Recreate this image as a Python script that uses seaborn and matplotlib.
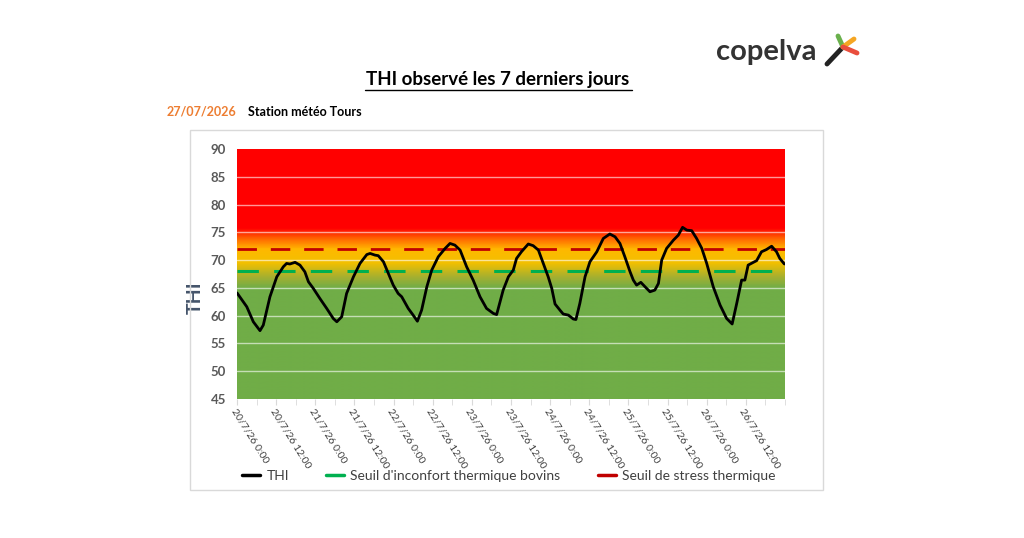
import numpy as np
import pandas as pd
import matplotlib
matplotlib.use("Agg")
import matplotlib.pyplot as plt
import matplotlib.dates as mdates
from matplotlib.colors import LinearSegmentedColormap
from matplotlib.lines import Line2D
from matplotlib.patches import Rectangle
import seaborn as sns

# Données (heures depuis le 20/07/2026 0:00, THI)
heures = [0, 3.0, 5.0, 7.05, 8.06, 10.1, 12.2, 14.2, 15.2, 16.2, 17.8, 19.3, 20.8,
          21.9, 23.4, 25.4, 27.5, 29.5, 30.6, 32.1, 33.6, 35.7, 37.7, 39.8, 40.8,
          42.3, 43.3, 44.9, 46.4, 47.9, 49.4, 50.5, 52.5, 54.0, 55.3, 56.6, 58.2,
          59.7, 61.7, 63.8, 65.3, 66.8, 68.4, 70.4, 72.4, 74.5, 76.5, 78.6, 79.6,
          80.6, 81.6, 83.2, 84.7, 85.7, 87.2, 89.3, 90.8, 92.4, 93.9, 95.4, 96.5,
          97.5, 99.0, 100.0, 101.6, 103.1, 103.9, 105.1, 106.7, 108.2, 110.3,
          112.3, 114.3, 115.9, 117.4, 118.9, 120.5, 121.5, 122.5, 123.8, 125.1,
          126.6, 128.1, 129.2, 130.2, 131.7, 133.8, 135.3, 136.6, 137.9, 139.4,
          140.9, 142.5, 144.0, 146.0, 148.1, 150.1, 151.8, 153.2, 154.7, 155.7,
          156.7, 158.3, 159.3, 160.8, 162.3, 163.9, 165.4, 166.4, 167.8]
thi = [64.1, 61.6, 58.9, 57.3, 58.3, 63.4, 67.0, 68.8, 69.4, 69.3, 69.6, 69.1, 67.9,
       66.1, 64.9, 63.1, 61.3, 59.5, 58.9, 59.8, 64.0, 67.0, 69.4, 71.0, 71.2,
       70.9, 70.8, 69.7, 67.6, 65.5, 64.0, 63.4, 61.3, 60.1, 59.0, 61.0, 65.2,
       68.2, 70.6, 72.1, 73.0, 72.7, 71.8, 68.8, 66.4, 63.4, 61.3, 60.4, 60.2,
       62.4, 64.6, 67.0, 68.2, 70.3, 71.5, 72.9, 72.6, 71.8, 69.4, 67.0, 64.9,
       62.1, 61.0, 60.3, 60.1, 59.4, 59.3, 62.2, 67.0, 69.7, 71.5, 73.9, 74.7,
       74.2, 73.0, 70.6, 67.9, 66.4, 65.5, 66.0, 65.2, 64.3, 64.6, 65.8, 70.0,
       72.1, 73.6, 74.5, 75.9, 75.4, 75.3, 73.9, 72.1, 69.4, 65.2, 61.9, 59.5,
       58.5, 62.2, 66.4, 66.4, 69.1, 69.6, 69.9, 71.5, 71.9, 72.5, 71.5, 70.3, 69.3]
seuil_inconfort = 68
seuil_stress = 72
debut = "2026-07-20 00:00"
fin = "2026-07-27 00:00"
noms_legende = ["THI", "Seuil d'inconfort thermique bovins", "Seuil de stress thermique"]
couleurs_legende = ["black", "#00b050", "#c00000"]

df = pd.DataFrame({"heure": heures, "THI": thi})
df["date"] = pd.Timestamp(debut) + pd.to_timedelta(df["heure"], unit="h")

sns.set_style("white")
plt.rcParams["font.family"] = ["Lato", "DejaVu Sans"]

fig = plt.figure(figsize=(10.24, 5.38), dpi=100)

# cadre du graphique
fig.patches.append(Rectangle((190 / 1024, 1 - 490 / 538), 633 / 1024, 360 / 538,
                             transform=fig.transFigure, fill=False,
                             edgecolor="#d9d9d9", linewidth=1))

ax = fig.add_axes([237 / 1024, 1 - 399 / 538, 548 / 1024, 250 / 538])

t0 = mdates.date2num(pd.Timestamp(debut))
t1 = mdates.date2num(pd.Timestamp(fin))

# fond dégradé vert -> jaune -> rouge
cmap = LinearSegmentedColormap.from_list("thi", [
    (0.0, "#70ad47"), (20 / 45, "#70ad47"), (22 / 45, "#a6b030"),
    (24.5 / 45, "#f2c000"), (27 / 45, "#ffb800"), (28.8 / 45, "#ff6a00"),
    (30.8 / 45, "#ff0000"), (1.0, "#ff0000")])
grad = np.linspace(0, 1, 450).reshape(-1, 1)
ax.imshow(grad, cmap=cmap, origin="lower", aspect="auto",
          extent=[t0, t1, 45, 90], zorder=0)

for v in range(50, 90, 5):
    ax.axhline(v, color="white", alpha=0.6, linewidth=1, zorder=1)

ax.axhline(seuil_stress, color="#c00000", linewidth=2, dashes=(7, 5), zorder=2)
ax.axhline(seuil_inconfort, color="#00b050", linewidth=2.2, dashes=(7, 5), zorder=2)
sns.lineplot(data=df, x="date", y="THI", color="black", linewidth=2, ax=ax, zorder=3)

ax.set_xlim(t0, t1)
ax.set_ylim(45, 90)
ax.set_yticks(range(45, 91, 5))
ticks = pd.date_range(debut, periods=14, freq="12h")
ax.set_xticks(mdates.date2num(ticks))
ax.set_xticklabels([f"{d.day}/{d.month}/{d.strftime('%y')} {d.hour}:00" for d in ticks],
                   rotation=-58, ha="left", va="top", rotation_mode="anchor",
                   fontsize=7.5, color="#404040")
ax.set_xticks(mdates.date2num(pd.date_range(debut, fin, freq="6h")), minor=True)
ax.tick_params(axis="x", which="both", length=4, color="#d9d9d9", bottom=True, pad=2)
ax.tick_params(axis="y", length=0, labelsize=9.5, labelcolor="#595959", pad=8)
for lab in ax.get_yticklabels():
    lab.set_fontweight("bold")
for s in ax.spines.values():
    s.set_visible(False)
ax.set_xlabel("")
ax.set_ylabel("THI", fontsize=14, fontweight="bold", color="#44546a")
ax.yaxis.set_label_coords(-0.06, 0.404)

# légende : trois entrées placées séparément
positions_legende = [242, 326, 598]
for nom, c, px in zip(noms_legende, couleurs_legende, positions_legende):
    fig.legend([Line2D([], [], color=c, lw=2.5)], [nom], loc="center left",
               bbox_to_anchor=(px / 1024, 1 - 476 / 538), frameon=False,
               fontsize=10, handlelength=1.3, handletextpad=0.45,
               borderaxespad=0, borderpad=0, labelcolor="#404040")

# titres
fig.text(0.486, 1 - 80 / 538, "THI observé les 7 derniers jours", ha="center", va="center",
         fontsize=13.5, fontweight="bold", color="black")
fig.add_artist(Line2D([365 / 1024, 632 / 1024], [1 - 90 / 538, 1 - 90 / 538],
                      color="black", linewidth=1))
fig.text(167 / 1024, 1 - 112 / 538, "27/07/2026", ha="left", va="center",
         fontsize=9, fontweight="bold", color="#ed7d31")
fig.text(248 / 1024, 1 - 112 / 538, "Station météo Tours", ha="left", va="center",
         fontsize=9, fontweight="bold", color="black")

# logo
fig.text(716 / 1024, 1 - 52 / 538, "copelva", ha="left", va="center",
         fontsize=21, fontweight="bold", color="#333333")
strokes = [((827, 64), (843, 47), "#222222"), ((838, 36), (843, 47), "#6ab04c"),
           ((854, 39), (843, 47), "#f5a623"), ((857, 53), (843, 47), "#e94e3d")]
for (xa, ya), (xb, yb), c in strokes:
    fig.add_artist(Line2D([xa / 1024, xb / 1024], [1 - ya / 538, 1 - yb / 538],
                          color=c, linewidth=3.5, solid_capstyle="round"))

fig.savefig("out.png", dpi=100)
